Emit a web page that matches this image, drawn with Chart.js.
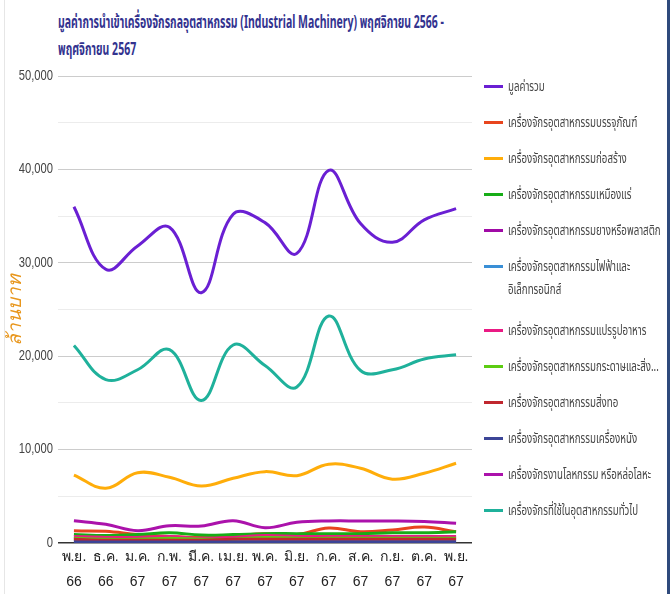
<!DOCTYPE html>
<html>
<head>
<meta charset="utf-8">
<script src="https://cdn.jsdelivr.net/npm/chart.js@4.4.1/dist/chart.umd.min.js"></script>
<style>
  body { margin: 0; background: #fff; font-family: "Noto Sans", "Noto Sans Thai", "DejaVu Sans", sans-serif; }
  #wrap { position: relative; width: 672px; height: 594px; overflow: hidden; }
  #frame { position: absolute; left: 4px; top: 0; width: 666px; height: 594px; border-left: 1px solid #e6e6e6; border-right: 3px solid #2f4a7c; box-sizing: border-box; }
  #title { position: absolute; left: 58px; top: 8px; color: #33338f; font-weight: bold; font-size: 18px; line-height: 27px; white-space: nowrap; }
  #title div { transform-origin: 0 50%; }
  #legend { position: absolute; left: 484px; top: 74px; }
  .item { display: flex; align-items: flex-start; height: 36px; }
  .item.two { height: 64px; }
  .sw { width: 19px; height: 3px; margin-top: 11px; margin-right: 5px; flex: none; }
  .txt { color: #444; font-size: 14px; line-height: 23px; white-space: nowrap; transform-origin: 0 0; }
  canvas { position: absolute; left: 0; top: 0; }
</style>
</head>
<body>
<div id="wrap">
  <div id="frame"></div>
  <div id="title"><div id="t1">มูลค่าการนำเข้าเครื่องจักรกลอุตสาหกรรม (Industrial Machinery) พฤศจิกายน 2566 -</div><div id="t2">พฤศจิกายน 2567</div></div>
  <canvas id="chart" width="672" height="594"></canvas>
  <div id="legend"></div>
</div>
<script>
var months = ['พ.ย.', 'ธ.ค.', 'ม.ค.', 'ก.พ.', 'มี.ค.', 'เม.ย.', 'พ.ค.', 'มิ.ย.', 'ก.ค.', 'ส.ค.', 'ก.ย.', 'ต.ค.', 'พ.ย.'];
var years = ['66', '66', '67', '67', '67', '67', '67', '67', '67', '67', '67', '67', '67'];

// ล้านบาท
var total      = [36000, 29300, 31800, 33800, 26800, 35200, 34300, 31000, 39900, 34200, 32200, 34600, 35800];
var packaging  = [1300, 1250, 900, 700, 600, 800, 1000, 900, 1600, 1200, 1400, 1700, 1200];
var construct  = [7270, 5860, 7530, 7040, 6110, 6930, 7640, 7210, 8440, 8000, 6830, 7470, 8540];
var mining     = [900, 800, 900, 1100, 850, 900, 1000, 1000, 1000, 1000, 1100, 1100, 1200];
var rubber     = [600, 500, 500, 500, 400, 500, 600, 500, 500, 500, 500, 600, 600];
var electric   = [300, 300, 300, 300, 300, 400, 400, 300, 300, 300, 300, 300, 300];
var food       = [700, 600, 600, 700, 500, 600, 800, 700, 700, 700, 700, 700, 700];
var paper      = [500, 400, 400, 500, 400, 400, 600, 500, 500, 500, 500, 500, 500];
var textile    = [400, 300, 300, 300, 300, 400, 400, 400, 400, 400, 400, 400, 400];
var leather    = [100, 100, 100, 100, 100, 100, 100, 100, 100, 100, 100, 100, 100];
var metalwork  = [2390, 2000, 1320, 1850, 1820, 2390, 1640, 2210, 2360, 2360, 2360, 2300, 2110];
var general    = [21150, 17500, 18550, 20700, 15250, 21200, 19000, 16700, 24300, 18470, 18550, 19700, 20150];

var seriesNames = [
  'มูลค่ารวม',
  'เครื่องจักรอุตสาหกรรมบรรจุภัณฑ์',
  'เครื่องจักรอุตสาหกรรมก่อสร้าง',
  'เครื่องจักรอุตสาหกรรมเหมืองแร่',
  'เครื่องจักรอุตสาหกรรมยางหรือพลาสติก',
  'เครื่องจักรอุตสาหกรรมไฟฟ้าและอิเล็กทรอนิกส์',
  'เครื่องจักรอุตสาหกรรมแปรรูปอาหาร',
  'เครื่องจักรอุตสาหกรรมกระดาษและสิ่งพิมพ์',
  'เครื่องจักรอุตสาหกรรมสิ่งทอ',
  'เครื่องจักรอุตสาหกรรมเครื่องหนัง',
  'เครื่องจักรงานโลหกรรม หรือหล่อโลหะ',
  'เครื่องจักรที่ใช้ในอุตสาหกรรมทั่วไป'
];
var legendText = seriesNames.slice();
legendText[5] = 'เครื่องจักรอุตสาหกรรมไฟฟ้าและ<br>อิเล็กทรอนิกส์';
legendText[7] = 'เครื่องจักรอุตสาหกรรมกระดาษและสิ่ง...';

var seriesColors = ['#6a1fd3', '#e8451e', '#ffad0a', '#17ad17', '#a00aa6', '#3a8fd6', '#ea1a84', '#5ccc12', '#c0272f', '#3c4597', '#ab12ab', '#1fb19b'];
var seriesData = [total, packaging, construct, mining, rubber, electric, food, paper, textile, leather, metalwork, general];

var labels = months.map(function(m, i) { return [m, years[i]]; });

var datasets = [];
// draw order: small ones first, big ones on top
for (var i = seriesData.length - 1; i >= 0; i--) {
  datasets.push({
    label: seriesNames[i],
    data: seriesData[i],
    borderColor: seriesColors[i],
    backgroundColor: seriesColors[i],
    borderWidth: 3,
    pointRadius: 0,
    tension: 0.4,
    fill: false
  });
}

var legendHtml = '';
for (var j = 0; j < seriesNames.length; j++) {
  legendHtml += '<div class="item' + (j == 5 ? ' two' : '') + '"><div class="sw" style="background:' + seriesColors[j] + '"></div><div class="txt">' + legendText[j] + '</div></div>';
}
document.getElementById('legend').innerHTML = legendHtml;

// squeeze text to the narrow look of the original
var txts = document.querySelectorAll('.txt');
var k = 153 / txts[4].scrollWidth;
txts.forEach(function(t) { t.style.transform = 'scaleX(' + k + ')'; });
var kt = 386 / document.getElementById('t1').scrollWidth;
document.getElementById('t1').style.transform = 'scaleX(' + kt + ')';
document.getElementById('t2').style.transform = 'scaleX(' + kt + ')';

// y tick labels are narrow too: squeeze around their right edge
var narrowTicks = {
  id: 'narrowTicks',
  afterUpdate: function(chart) {
    var s = chart.scales.y;
    var orig = Object.getPrototypeOf(s).drawLabels;
    s.drawLabels = function(area) {
      var c = this.ctx, x = this.right - 5;
      c.save();
      c.translate(x, 0);
      c.scale(0.8, 1);
      c.translate(-x, 0);
      orig.call(this, area);
      c.restore();
    };
  }
};

var ctx = document.getElementById('chart');
new Chart(ctx, {
  type: 'line',
  data: { labels: labels, datasets: datasets },
  plugins: [narrowTicks],
  options: {
    responsive: false,
    animation: false,
    layout: { padding: { top: 76, right: 200, left: 0, bottom: 0 } },
    plugins: { legend: { display: false }, tooltip: { enabled: false } },
    scales: {
      x: {
        offset: true,
        grid: { display: false },
        border: { display: false },
        ticks: { color: '#222', font: { size: 14, lineHeight: 1.75 }, padding: -6, maxRotation: 0, autoSkip: false },
        afterFit: function(s) { s.height = 51; }
      },
      y: {
        min: 0, max: 50000,
        ticks: {
          stepSize: 5000, color: '#444', font: { size: 14 }, padding: 5,
          callback: function(v) { return v % 10000 === 0 ? v.toLocaleString('en-US') : ''; }
        },
        grid: {
          color: function(c) {
            if (c.tick.value === 0) return '#333';
            return c.tick.value % 10000 === 0 ? '#cccccc' : '#ececec';
          },
          lineWidth: function(c) { return c.tick.value === 0 ? 1.5 : 1; },
          drawTicks: false
        },
        border: { display: false },
        title: { display: true, text: 'ล้านบาท', color: '#e8961c', font: { size: 19, style: 'italic' }, padding: { top: 4, bottom: 0 } },
        afterFit: function(s) { s.width = 58; }
      }
    }
  }
});
</script>
</body>
</html>
